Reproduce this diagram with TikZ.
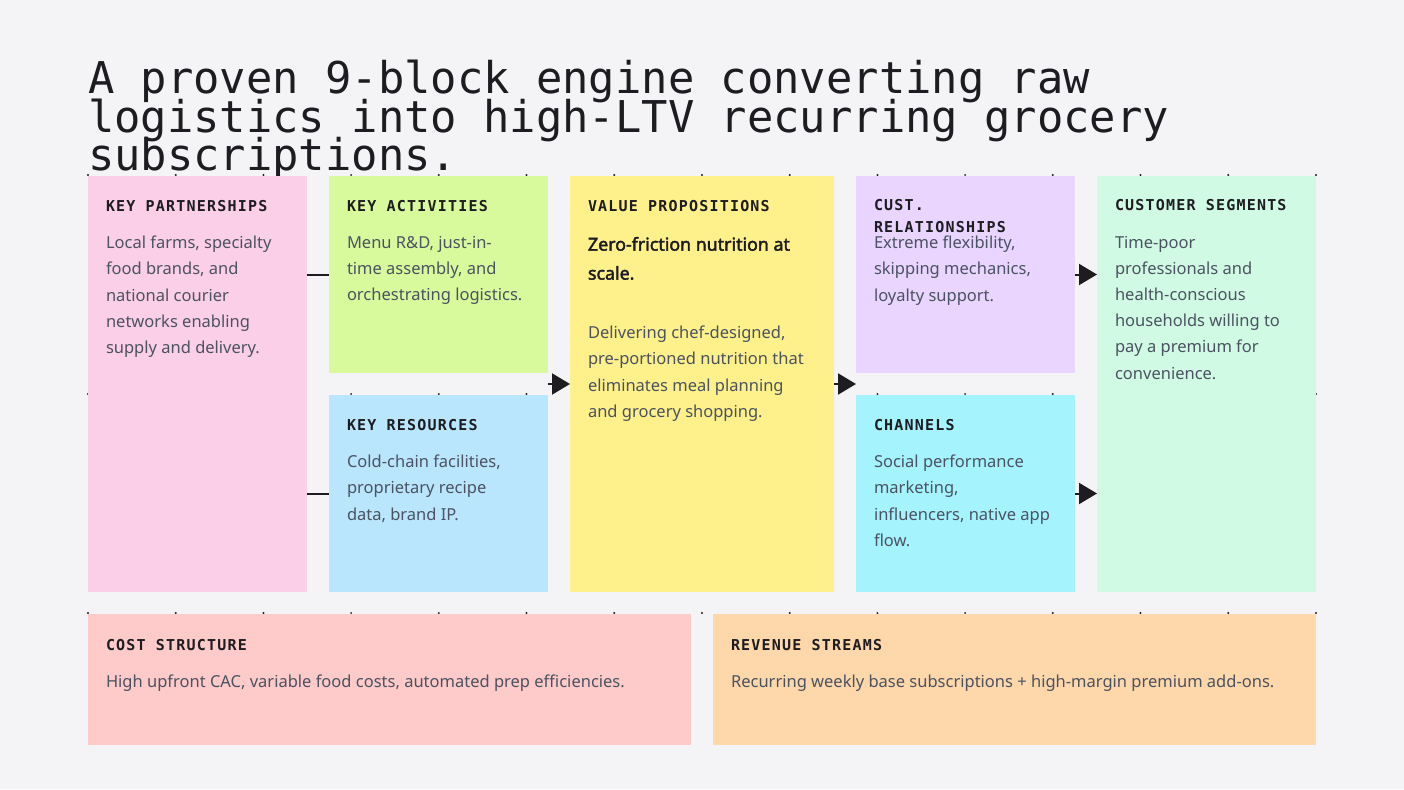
\documentclass[tikz,border=0pt]{standalone}
\usepackage{fontspec}
\setmainfont{Noto Sans}
\newfontfamily\titlefont{DejaVu Sans Mono}
\newfontfamily\headfont[LetterSpace=8]{DejaVu Sans Mono}
\newfontfamily\leadfont[FakeBold=2.2]{Noto Sans}
\newcommand\titlesize{\fontsize{43.8}{38.5}\selectfont\lineskiplimit-60pt\relax}
\usetikzlibrary{positioning, arrows.meta, calc}
\definecolor{canvas}{HTML}{F4F4F6}
\definecolor{ink}{HTML}{1C1C21}
\definecolor{bodyink}{HTML}{4B5261}
\definecolor{cpink}{HTML}{FBCFE8}
\definecolor{clime}{HTML}{D9F99D}
\definecolor{csky}{HTML}{BAE6FD}
\definecolor{cyellow}{HTML}{FEF08A}
\definecolor{clav}{HTML}{E9D5FF}
\definecolor{ccyan}{HTML}{A5F3FC}
\definecolor{cmint}{HTML}{D1FAE5}
\definecolor{cred}{HTML}{FECACA}
\definecolor{corange}{HTML}{FED7AA}

\begin{document}
\begin{tikzpicture}[
  x=1pt, y=-1pt,
  >={Triangle[length=18pt, width=21pt]},
  every node/.style={inner sep=0pt, outer sep=0pt},
  card/.style   = {anchor=north west, minimum width=219pt, minimum height=197pt},
  tall/.style   = {card, minimum height=416pt},
  wide/.style   = {card, minimum width=603pt, minimum height=131pt},
  title/.style  = {anchor=north west, align=left, ink, font=\titlefont\titlesize},
  head/.style   = {anchor=north west, align=left, ink, font=\headfont\bfseries\fontsize{15}{22}\selectfont},
  body/.style   = {anchor=north west, align=left, bodyink, font=\fontsize{16.5}{26.2}\selectfont},
  lead/.style   = {anchor=north west, align=left, ink, font=\leadfont\fontsize{17.8}{29}\selectfont},
  arr/.style    = {->, line width=2pt, ink},
  link/.style   = {line width=2pt, ink},
  dotrow/.style = {ink, line width=2.2pt, line cap=round, dash pattern=on 0pt off 87.71pt},
]
  \fill[canvas] (0,0) rectangle (1404,789);
  \node[title] (ttl) at (88,60) {A proven 9-block engine converting raw\\logistics into high-LTV recurring grocery\\subscriptions.};
  \foreach \y in {175,394,613}\draw[dotrow] (88,\y) -- (1316,\y);

  \node[tall, fill=cpink] (kp) at (88,176) {};
  \node[card, fill=clime, right=22pt of kp.north east, anchor=north west] (ka) {};
  \node[card, fill=csky, below=22pt of ka.south west, anchor=north west] (kr) {};
  \node[tall, fill=cyellow, right=22pt of ka.north east, anchor=north west, minimum width=264pt] (vp) {};
  \node[card, fill=clav, right=22pt of vp.north east, anchor=north west] (cr) {};
  \node[card, fill=ccyan, below=22pt of cr.south west, anchor=north west] (ch) {};
  \node[tall, fill=cmint, right=22pt of cr.north east, anchor=north west] (cs) {};
  \node[wide, fill=cred, below=22pt of kp.south west, anchor=north west] (cost) {};
  \node[wide, fill=corange, right=22pt of cost.north east, anchor=north west] (rev) {};

  \node[head] (kph) at ($(kp.north west)+(18,24.5)$) {KEY PARTNERSHIPS};
  \node[body] (kpt) at ($(kp.north west)+(18,60)$) {Local farms, specialty\\food brands, and\\national courier\\networks enabling\\supply and delivery.};
  \node[head] (kah) at ($(ka.north west)+(18,24.5)$) {KEY ACTIVITIES};
  \node[body] (kat) at ($(ka.north west)+(18,60)$) {Menu R\&D, just-in-\\time assembly, and\\orchestrating logistics.};
  \node[head] (krh) at ($(kr.north west)+(18,24.5)$) {KEY RESOURCES};
  \node[body] (krt) at ($(kr.north west)+(18,60)$) {Cold-chain facilities,\\proprietary recipe\\data, brand IP.};
  \node[head] (vph) at ($(vp.north west)+(18,24.5)$) {VALUE PROPOSITIONS};
  \node[lead] (vpl) at ($(vp.north west)+(18,61)$) {Zero-friction nutrition at\\scale.};
  \node[body] (vpt) at ($(vp.north west)+(18,150)$) {Delivering chef-designed,\\pre-portioned nutrition that\\eliminates meal planning\\and grocery shopping.};
  \node[head] (crh) at ($(cr.north west)+(18,23)$) {CUST.\\RELATIONSHIPS};
  \node[body] (crt) at ($(cr.north west)+(18,60)$) {Extreme flexibility,\\skipping mechanics,\\loyalty support.};
  \node[head] (chh) at ($(ch.north west)+(18,24.5)$) {CHANNELS};
  \node[body] (cht) at ($(ch.north west)+(18,60)$) {Social performance\\marketing,\\influencers, native app\\flow.};
  \node[head] (csh) at ($(cs.north west)+(18,23.5)$) {CUSTOMER SEGMENTS};
  \node[body] (cst) at ($(cs.north west)+(18,60)$) {Time-poor\\professionals and\\health-conscious\\households willing to\\pay a premium for\\convenience.};
  \node[head] (costh) at ($(cost.north west)+(18,25)$) {COST STRUCTURE};
  \node[body] (costt) at ($(cost.north west)+(18,61)$) {High upfront CAC, variable food costs, automated prep efficiencies.};
  \node[head] (revh) at ($(rev.north west)+(18,25)$) {REVENUE STREAMS};
  \node[body] (revt) at ($(rev.north west)+(18,61)$) {Recurring weekly base subscriptions + high-margin premium add-ons.};

  \draw[link] (ka.west -| kp.east) -- (ka.west);
  \draw[link] (kr.west -| kp.east) -- (kr.west);
  \draw[arr] (vp.west -| ka.east) -- (vp.west);
  \draw[arr] (vp.east) -- (vp.east -| cr.west);
  \foreach \a in {cr,ch}\draw[arr] (\a.east) -- (\a.east -| cs.west);
\end{tikzpicture}
\end{document}
